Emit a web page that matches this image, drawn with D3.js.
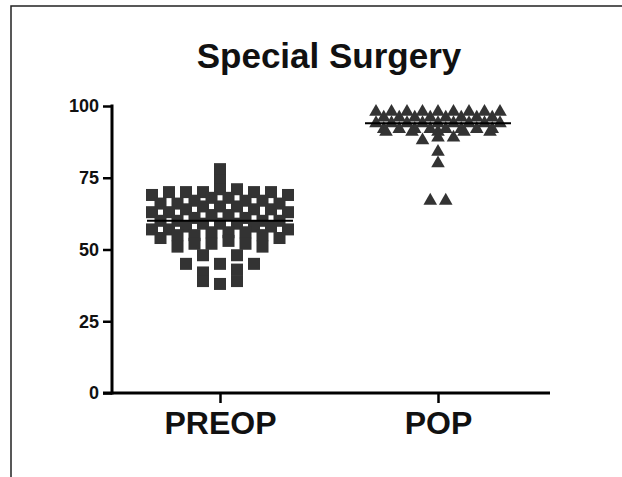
<!DOCTYPE html>
<html lang="en">
<head>
  <meta charset="UTF-8">
  <title>Special Surgery</title>
  <style>
    body { margin: 0; background: #fff; }
    text { font-family: "Liberation Sans", Arial, sans-serif; font-weight: bold; }
  </style>
</head>
<body>

  <svg id="svg" width="622" height="477"></svg>

  <script src="https://d3js.org/d3.v7.min.js"></script>
  <script>

    const categories = ['PREOP', 'POP']
    const yTicks = [0, 25, 50, 75, 100]

    // scores
    const preopValues = [
      78,
      74,
      71, 71, 70, 70, 70, 70, 70, 69, 69,
      68, 68, 67, 67, 67, 66, 66, 66,
      65, 65, 65, 64, 64, 64, 63, 63, 63,
      62, 62, 61, 61, 60, 60, 60, 60,
      59, 59, 59, 58, 58, 58, 57, 57, 57,
      56, 56, 56, 55, 55, 55, 54, 54,
      53, 52, 52, 52, 51, 51,
      48, 48,
      45, 45, 45,
      43, 42,
      39, 39,
      38
    ]
    const popValues = [
      98, 98, 98, 98, 98, 98, 98, 98, 98,
      96, 96, 96, 96, 96, 96, 96, 96,
      94, 94, 94, 94, 94, 94, 94, 94, 94,
      92, 92, 92, 92, 92, 92, 92, 92,
      91, 91, 91, 91, 91,
      89, 89, 88,
      84, 80,
      67, 67
    ]

    const svg = d3.select('#svg')

    // outer frame (runs off right and bottom)
    svg.append('path')
      .attr('d', 'M11,477 L11,6 L622,6')
      .attr('fill', 'none')
      .attr('stroke', '#222')
      .attr('stroke-width', 1.5)

    const xScale = d3.scalePoint()
      .domain(categories)
      .range([220, 438])

    const yScale = d3.scaleLinear()
      .domain([0, 100])
      .range([393, 106])

    svg.append('text')
      .attr('x', 329)
      .attr('y', 68)
      .attr('text-anchor', 'middle')
      .attr('font-size', 35)
      .attr('fill', '#111')
      .text('Special Surgery')

    // y axis
    const yAxis = svg.append('g')
      .attr('transform', 'translate(112,0)')
      .call(d3.axisLeft(yScale).tickValues(yTicks).tickSize(9).tickPadding(4))
    yAxis.select('.domain').remove()
    yAxis.append('line')
      .attr('x1', 0).attr('x2', 0)
      .attr('y1', yScale(100) - 1.5).attr('y2', yScale(0) + 1.5)
      .attr('stroke', '#000').attr('stroke-width', 3)
    yAxis.selectAll('.tick line').attr('stroke', '#000').attr('stroke-width', 2.5)
    yAxis.selectAll('.tick text')
      .attr('font-size', 18)
      .attr('fill', '#111')
      .style('font-family', '"Liberation Sans", Arial, sans-serif')
      .style('font-weight', 'bold')

    // x axis
    const xAxis = svg.append('g')
      .attr('transform', 'translate(0,393)')
      .call(d3.axisBottom(xScale).tickSize(10).tickPadding(8))
    xAxis.select('.domain').remove()
    xAxis.append('line')
      .attr('x1', 103).attr('x2', 550)
      .attr('y1', 0).attr('y2', 0)
      .attr('stroke', '#000').attr('stroke-width', 3)
    xAxis.selectAll('.tick line').attr('stroke', '#000').attr('stroke-width', 2.5)
    xAxis.selectAll('.tick text')
      .attr('font-size', 32)
      .attr('fill', '#111')
      .style('font-family', '"Liberation Sans", Arial, sans-serif')
      .style('font-weight', 'bold')

    // spread points that share a value band side by side,
    // highest value in the middle, then out to both sides
    function swarm(values, center, binW, spacingFor) {
      const groups = d3.groups(values, v => Math.floor(v / binW))
      const out = []
      groups.forEach(([, vals]) => {
        vals.sort((a, b) => b - a)
        const n = vals.length
        const sp = spacingFor(n)
        const slots = d3.range(n).map(i => i - (n - 1) / 2)
          .sort((a, b) => Math.abs(a) - Math.abs(b) || b - a)
        vals.forEach((v, i) => {
          out.push({ v: v, x: center + slots[i] * sp })
        })
      })
      return out
    }

    const preopPts = swarm(preopValues, xScale('PREOP'), 3, n => n <= 3 ? 34 : 17)
    const popPts = swarm(popValues, xScale('POP'), 2, n => n === 5 ? 26 : 15.5)

    const sq = 12
    svg.append('g').selectAll('rect')
      .data(preopPts)
      .enter()
      .append('rect')
      .attr('x', d => d.x - sq / 2)
      .attr('y', d => yScale(d.v) - sq / 2)
      .attr('width', sq)
      .attr('height', sq)
      .attr('fill', '#333')

    const tri = d3.symbol().type(d3.symbolTriangle).size(80)
    svg.append('g').selectAll('path')
      .data(popPts)
      .enter()
      .append('path')
      .attr('d', tri)
      .attr('transform', d => `translate(${d.x},${yScale(d.v)})`)
      .attr('fill', '#333')

    // median lines
    const medians = [
      { c: 'PREOP', m: d3.median(preopValues) },
      { c: 'POP', m: d3.median(popValues) }
    ]
    svg.append('g').selectAll('line')
      .data(medians)
      .enter()
      .append('line')
      .attr('x1', d => xScale(d.c) - 73)
      .attr('x2', d => xScale(d.c) + 73)
      .attr('y1', d => yScale(d.m))
      .attr('y2', d => yScale(d.m))
      .attr('stroke', '#000')
      .attr('stroke-width', 2)

  </script>
</body>
</html>
